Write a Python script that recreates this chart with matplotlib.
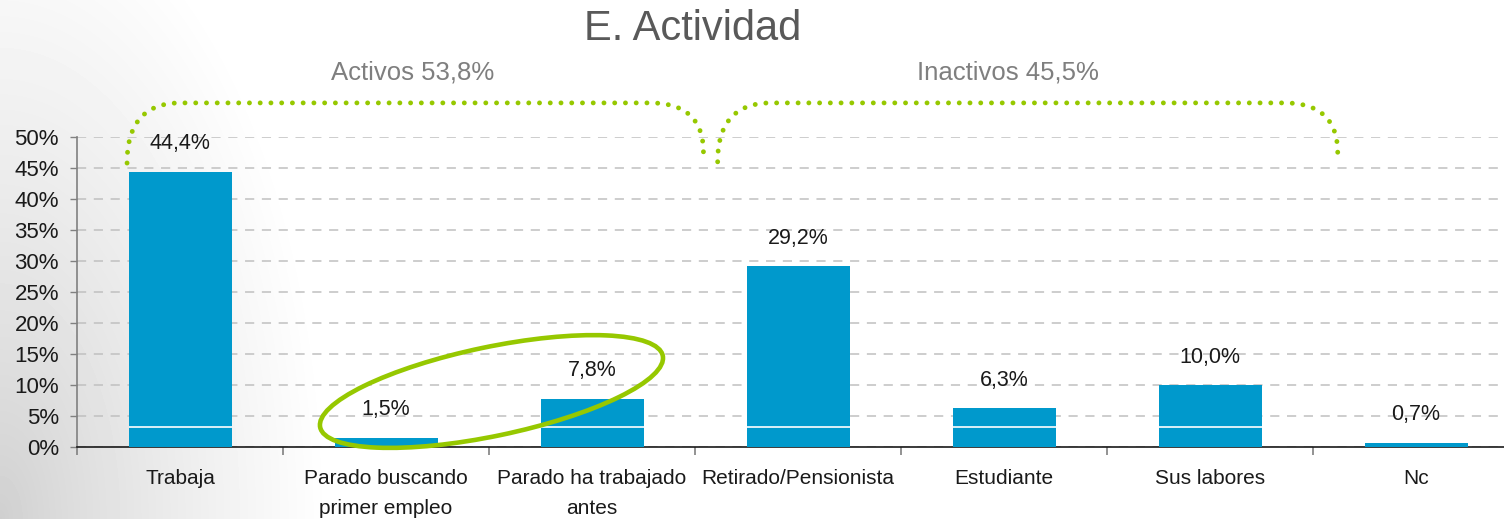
import numpy as np
import matplotlib

matplotlib.use("Agg", force=True)
import matplotlib.pyplot as plt
from matplotlib.patches import Ellipse
from matplotlib.transforms import ScaledTranslation

plt.rcParams["font.family"] = ["Liberation Sans", "DejaVu Sans"]

categories = [
    "Trabaja",
    "Parado buscando\nprimer empleo",
    "Parado ha trabajado\nantes",
    "Retirado/Pensionista",
    "Estudiante",
    "Sus labores",
    "Nc",
]
values = [44.4, 1.5, 7.8, 29.2, 6.3, 10.0, 0.7]
value_labels = ["44,4%", "1,5%", "7,8%", "29,2%", "6,3%", "10,0%", "0,7%"]
y_ticks = [0, 5, 10, 15, 20, 25, 30, 35, 40, 45, 50]
group_labels = ["Activos 53,8%", "Inactivos 45,5%"]
title = "E. Actividad"

BLUE = "#0099cc"
GREEN = "#96c800"

W, H, DPI = 1504, 519, 100
fig = plt.figure(figsize=(W / DPI, H / DPI), dpi=DPI)

# soft grey background in the lower-left corner
bg = fig.add_axes([0, 0, 1, 1], zorder=-5)
xx, yy = np.meshgrid(np.arange(W), np.arange(H))
d = np.sqrt((xx / 330.0) ** 2 + ((H - yy) / 650.0) ** 2)
shade = 0.81 + 0.19 * np.clip(d, 0, 1) ** 0.8
bg.imshow(shade, cmap="gray", vmin=0, vmax=1, aspect="auto", interpolation="bilinear")
bg.axis("off")

left, bottom, top = 77 / W, (H - 447) / H, (H - 137) / H
ax = fig.add_axes([left, bottom, 1 - left, top - bottom])
ax.patch.set_alpha(0)

x = np.arange(len(categories))
bar_w = 0.5
ax.bar(x, values, width=bar_w, color=BLUE, zorder=3)
# thin white line through the taller bars
for xi, v in zip(x, values):
    if v > 3.3:
        ax.hlines(3.3, xi - bar_w / 2, xi + bar_w / 2, color="white", linewidth=1.2, zorder=4)

ax.set_yticks(y_ticks)
ax.set_yticklabels([f"{t}%" for t in y_ticks], fontsize=16, color="#1a1a1a")
ax.yaxis.grid(True, color="#c0c0c0", linestyle=(0, (6, 5)), linewidth=1.1, zorder=0)
ax.tick_params(axis="y", length=5, width=1, color="#808080", pad=8)

ax.set_xticks(np.arange(len(categories) + 1) - 0.5)
ax.set_xticklabels([])
ax.tick_params(axis="x", which="major", length=6, width=1.2, color="#808080")
ax.set_xticks(x, minor=True)
ax.set_xticklabels(categories, minor=True, fontsize=15, color="#1a1a1a", linespacing=1.7)
ax.tick_params(axis="x", which="minor", length=0, pad=16)

ax.set_ylim(0, 50)
ax.set_xlim(-0.5, (W - 77) / 206 - 0.5)

for s in ["top", "right"]:
    ax.spines[s].set_visible(False)
ax.spines["left"].set_color("#808080")
ax.spines["left"].set_linewidth(1.2)
ax.spines["bottom"].set_color("#1a1a1a")
ax.spines["bottom"].set_linewidth(1.2)

for xi, v, lab in zip(x, values, value_labels):
    ax.annotate(lab, (xi, v), xytext=(0, 20), textcoords="offset points",
                ha="center", va="center", fontsize=15.5, color="#1a1a1a", zorder=5)


def brace_side(x0, y0, x1, y1, n=60):
    # quadratic curve: vertical at (x0, y0), horizontal at (x1, y1)
    t = np.linspace(0, 1, n)
    px = (1 - t) ** 2 * x0 + 2 * (1 - t) * t * x0 + t ** 2 * x1
    py = (1 - t) ** 2 * y0 + 2 * (1 - t) * t * y1 + t ** 2 * y1
    return px, py


def brace(xa, xb, ylow_a, ylow_b, ytop, r):
    lx, ly = brace_side(xa, ylow_a, xa + r, ytop)
    rx, ry = brace_side(xb, ylow_b, xb - r, ytop)
    px = np.concatenate([lx, [xa + r, xb - r], rx[::-1]])
    py = np.concatenate([ly, [ytop, ytop], ry[::-1]])
    ax.plot(px, py, color=GREEN, linewidth=3.5, linestyle=(0, (0.01, 2.2)),
            dash_capstyle="round", clip_on=False, zorder=6)


brace(-0.257, 2.541, 45.8, 47.5, 55.5, 0.26)
brace(2.61, 5.62, 46.0, 47.4, 55.5, 0.26)

ax.text(1.13, 60.4, group_labels[0], ha="center", va="center", fontsize=18.5, color="#7f7f7f")
ax.text(4.02, 60.4, group_labels[1], ha="center", va="center", fontsize=18.5, color="#7f7f7f")

fig.text(693 / W, 1 - 29 / H, title, ha="center", va="center", fontsize=30, color="#595959")

# ellipse highlighting the two "Parado" bars
ell_tr = fig.dpi_scale_trans + ScaledTranslation(1.512, 8.95, ax.transData)
ax.add_patch(Ellipse((0, 0), 3.5, 0.89, angle=11.8, fill=False, edgecolor=GREEN,
                     linewidth=3.3, transform=ell_tr, clip_on=False, zorder=7))

fig.savefig("out.png", dpi=DPI)
